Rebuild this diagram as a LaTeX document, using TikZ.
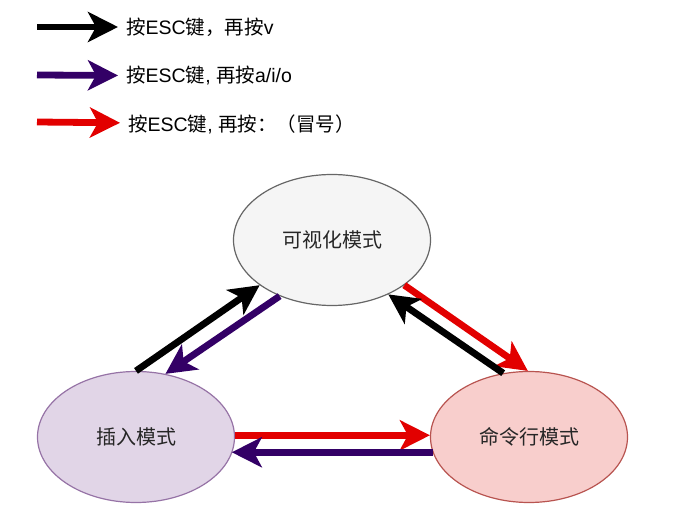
\documentclass[tikz,border=0pt]{standalone}
\usepackage{fontspec}
\setmainfont{Liberation Sans}
\newfontfamily\cjk{Noto Sans CJK SC}
\usetikzlibrary{shapes.geometric, arrows.meta, positioning}

\definecolor{visfill}{HTML}{F5F5F5}
\definecolor{visdraw}{HTML}{666666}
\definecolor{insfill}{HTML}{E1D5E7}
\definecolor{insdraw}{HTML}{9673A6}
\definecolor{cmdfill}{HTML}{F8CECC}
\definecolor{cmddraw}{HTML}{B85450}
\definecolor{arrpurple}{HTML}{330066}
\definecolor{arrred}{HTML}{E20000}

\begin{document}
\begin{tikzpicture}[
        x=1pt, y=-1pt,
        mode/.style={ellipse, draw, line width=1.2pt, minimum width=197pt, minimum height=131pt, inner sep=0pt, font=\cjk\fontsize{20}{22}\selectfont, text=black!85},
        legend/.style={anchor=west, inner xsep=8pt, inner ysep=3pt, font=\fontsize{19.5}{22}\selectfont},
        line/.style={draw, line width=6.8pt, -{Stealth[length=30pt, width=30pt, inset=8pt]}}
    ]
    \useasboundingbox (0,0) rectangle (699,518);

    % legend
    \coordinate (k1) at (37,27);
    \coordinate (k2) at (37,75);
    \coordinate (k3) at (37,122);
    \node [legend] (t1) at (118,27) {{\cjk 按}ESC{\cjk 键，再按}v};
    \node [legend] (t2) at (118,76) {{\cjk 按}ESC{\cjk 键}, {\cjk 再按}a/i/o};
    \node [legend] (t3) at (120,124) {{\cjk 按}ESC{\cjk 键}, {\cjk 再按：（冒号）}};

    % modes
    \node [mode, fill=visfill, draw=visdraw] (visual) at (332,240) {可视化模式};
    \node [mode, fill=insfill, draw=insdraw] (insert) at (136,437) {插入模式};
    \node [mode, fill=cmdfill, draw=cmddraw] (command) at (529,437) {命令行模式};

    \path [line, draw=black] (k1) -- (t1);
    \path [line, draw=arrpurple] (k2) -- (t2);
    \path [line, draw=arrred] (k3) -- (t3);

    \path [line, draw=black] (insert.90) -- (visual.212);
    \path [line, draw=arrpurple] (visual.227) -- (insert.65);
    \path [line, draw=arrred] (visual.328) -- (command.91);
    \path [line, draw=black] (command.112) -- (visual.316);
    \path [line, draw=arrred] (insert.1) -- (insert.1 -| command.179);
    \path [line, draw=arrpurple] (command.189.5) -- (command.189.5 -| insert.350.5);

    \end{tikzpicture}
\end{document}
